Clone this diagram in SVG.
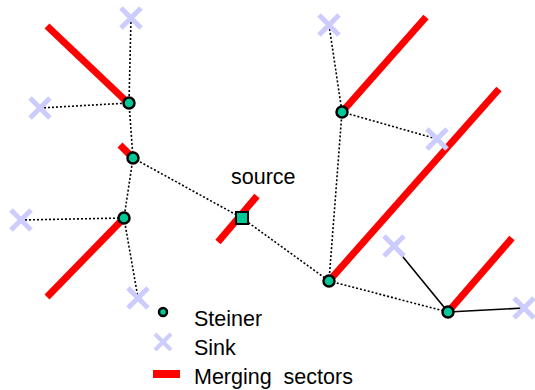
<svg xmlns="http://www.w3.org/2000/svg" width="535" height="390" viewBox="0 0 535 390">
<style>
.sector{stroke:#ff0000;stroke-width:7;fill:none}
.dot{stroke:#000;stroke-width:1.6;stroke-dasharray:2,2;fill:none}
.solid{stroke:#000;stroke-width:1.6;fill:none}
.sink{stroke:#ccccff;stroke-width:5;fill:none}
.steiner{fill:#00c896;stroke:#000;stroke-width:2.5}
.lbl{font-family:"Liberation Sans",Arial,sans-serif;font-size:21.5px;fill:#000}
</style>
<defs>
<g id="x"><path d="M-10,-10L10,10M-10,10L10,-10"/></g>
</defs>
<g id="connectors">
<line class="dot" x1="131" y1="18" x2="129" y2="103"/>
<line class="dot" x1="40" y1="108" x2="129" y2="103"/>
<line class="dot" x1="129" y1="103" x2="133" y2="158"/>
<line class="dot" x1="133" y1="158" x2="124" y2="218"/>
<line class="dot" x1="21" y1="220" x2="124" y2="218"/>
<line class="dot" x1="124" y1="218" x2="138" y2="298"/>
<line class="dot" x1="133" y1="158" x2="242" y2="218"/>
<line class="dot" x1="242" y1="218" x2="329" y2="281"/>
<line class="dot" x1="329" y1="281" x2="342" y2="112"/>
<line class="dot" x1="329" y1="25" x2="342" y2="112"/>
<line class="dot" x1="342" y1="112" x2="437" y2="139"/>
<line class="dot" x1="329" y1="281" x2="448" y2="312"/>
<line class="solid" x1="394" y1="246" x2="448" y2="312"/>
<line class="solid" x1="448" y1="312" x2="524" y2="308"/>
</g>
<g id="sectors">
<line class="sector" x1="47" y1="26" x2="127" y2="102"/>
<line class="sector" x1="120" y1="145" x2="133" y2="158"/>
<line class="sector" x1="47" y1="297" x2="124" y2="218"/>
<line class="sector" x1="218" y1="242" x2="257" y2="196"/>
<line class="sector" x1="342" y1="112" x2="426" y2="17"/>
<line class="sector" x1="329" y1="281" x2="499" y2="89"/>
<line class="sector" x1="448" y1="312" x2="512" y2="238"/>
</g>
<g id="sinks" class="sink">
<use href="#x" x="131" y="18"/>
<use href="#x" x="40" y="108"/>
<use href="#x" x="21" y="220"/>
<use href="#x" x="138" y="298"/>
<use href="#x" x="329" y="25"/>
<use href="#x" x="437" y="139"/>
<use href="#x" x="394" y="246"/>
<use href="#x" x="524" y="308"/>
</g>
<g id="steiner1"><circle class="steiner" cx="129" cy="103" r="5.5"/></g>
<g id="steiner2"><circle class="steiner" cx="133" cy="158" r="5.5"/></g>
<g id="steiner3"><circle class="steiner" cx="124" cy="218" r="5.5"/></g>
<g id="steiner4"><circle class="steiner" cx="342" cy="112" r="5.5"/></g>
<g id="steiner5"><circle class="steiner" cx="329" cy="281" r="5.5"/></g>
<g id="steiner6"><circle class="steiner" cx="448" cy="312" r="5.5"/></g>
<g id="source">
<rect x="236" y="212" width="12" height="12" fill="#00c896" stroke="#000" stroke-width="2"/>
<text class="lbl" x="231" y="184">source</text>
</g>
<g id="legend">
<circle class="steiner" cx="163" cy="312" r="4"/>
<text class="lbl" x="194" y="326">Steiner</text>
<use href="#x" class="sink" x="163" y="342" transform="translate(163,342) scale(0.8) translate(-163,-342)"/>
<text class="lbl" x="194" y="355">Sink</text>
<line x1="153" y1="374" x2="180" y2="374" stroke="#ff0000" stroke-width="8"/>
<text class="lbl" x="194" y="384" xml:space="preserve">Merging  sectors</text>
</g>
</svg>
